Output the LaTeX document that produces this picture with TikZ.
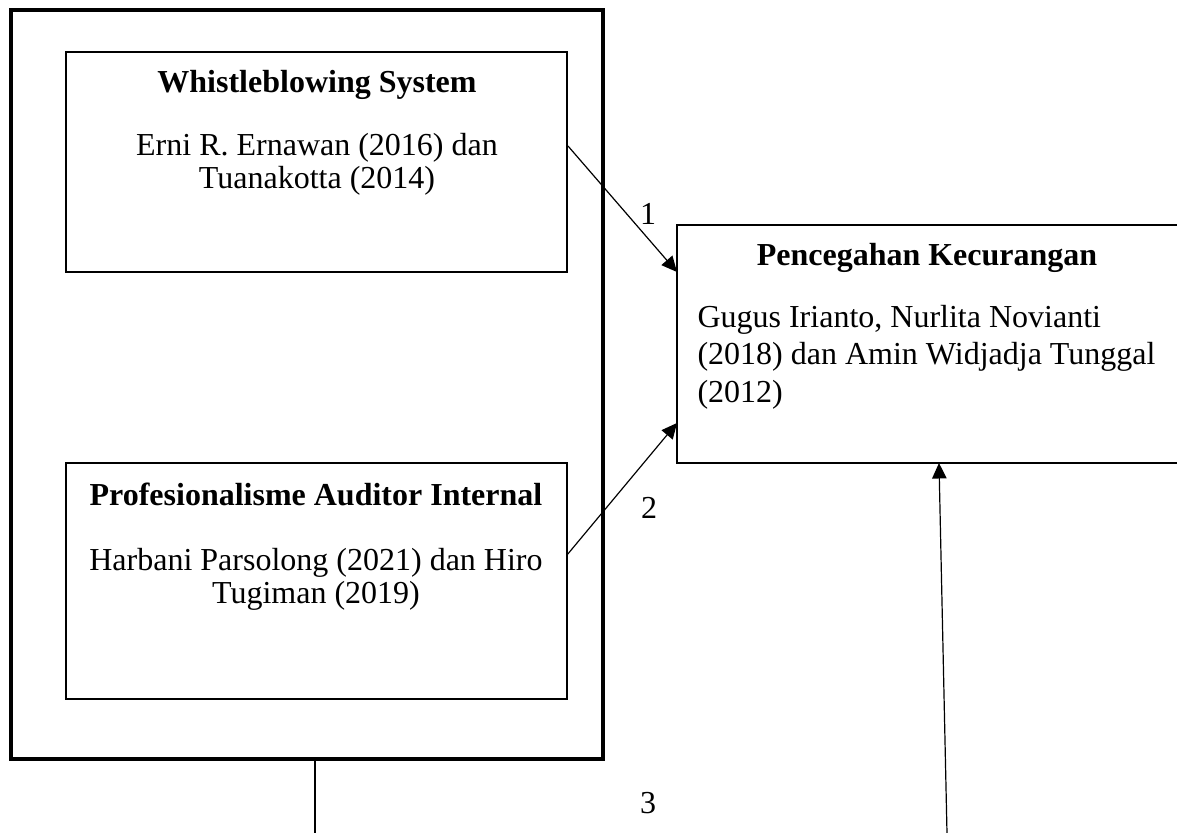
\documentclass[tikz,border=0pt]{standalone}
\usepackage{fontspec}
\setmainfont{Liberation Serif}
\usetikzlibrary{arrows.meta,calc}
\begin{document}
\begin{tikzpicture}[x=0.375pt,y=-0.375pt,
  every node/.style={font=\fontsize{12}{14}\selectfont},
  outerbox/.style={draw, line width=1.15pt, inner sep=0pt, outer sep=0pt},
  boxnode/.style={draw, line width=0.45pt, inner sep=0pt, outer sep=0pt},
  txt/.style={inner sep=0pt, anchor=base},
  txtl/.style={inner sep=0pt, anchor=base west},
  conn/.style={line width=0.45pt},
  arr/.style={line width=0.45pt, -{Triangle[length=5.8pt,width=5.4pt]}}
]
\useasboundingbox (0,0) rectangle (1177,833);
% boxes
\node[outerbox, minimum width=222pt, minimum height=280.875pt] (outer) at (307,384.5) {};
\node[boxnode, minimum width=187.875pt, minimum height=82.5pt] (b1) at (316.5,162) {};
\node[boxnode, minimum width=187.875pt, minimum height=88.5pt] (b2) at (316.5,581) {};
\node[boxnode, minimum width=192.375pt, minimum height=89.25pt] (rb) at (933.5,344) {};
% texts box 1
\node[txt] (t1a) at (317,92) {\textbf{Whistleblowing System}};
\node[txt] (t1b) at (317,155) {Erni R. Ernawan (2016) dan};
\node[txt] (t1c) at (317,188) {Tuanakotta (2014)};
% texts box 2
\node[txt] (t2a) at (316,505) {\textbf{Profesionalisme Auditor Internal}};
\node[txt] (t2b) at (316,570) {Harbani Parsolong (2021) dan Hiro};
\node[txt] (t2c) at (316,603) {Tugiman (2019)};
% texts right box
\node[txt] (t3a) at (927,265) {\textbf{Pencegahan Kecurangan}};
\node[txtl] (t3b) at (697,327) {Gugus Irianto, Nurlita Novianti};
\node[txtl] (t3c) at (697,364) {(2018) dan Amin Widjadja Tunggal};
\node[txtl] (t3d) at (697,402) {(2012)};
% labels
\node[txt] (l1) at (648,224) {1};
\node[txt] (l2) at (649,518) {2};
\node[txt] (l3) at (648,813) {3};
% free ends
\coordinate (c1) at (315,833);
\coordinate (c3) at (947,833);
% connectors
\draw[arr] ($(b1.north east)+(1,94)$) -- ($(rb.north west)+(0,47)$);
\draw[arr] ($(b2.north east)+(0,92)$) -- ($(rb.north west)+(0,198)$);
\draw[conn] ($(outer.south west)+(304,0)$) -- (c1);
\draw[arr] (c3) -- ($(rb.south west)+(262,0)$);
\end{tikzpicture}
\end{document}
